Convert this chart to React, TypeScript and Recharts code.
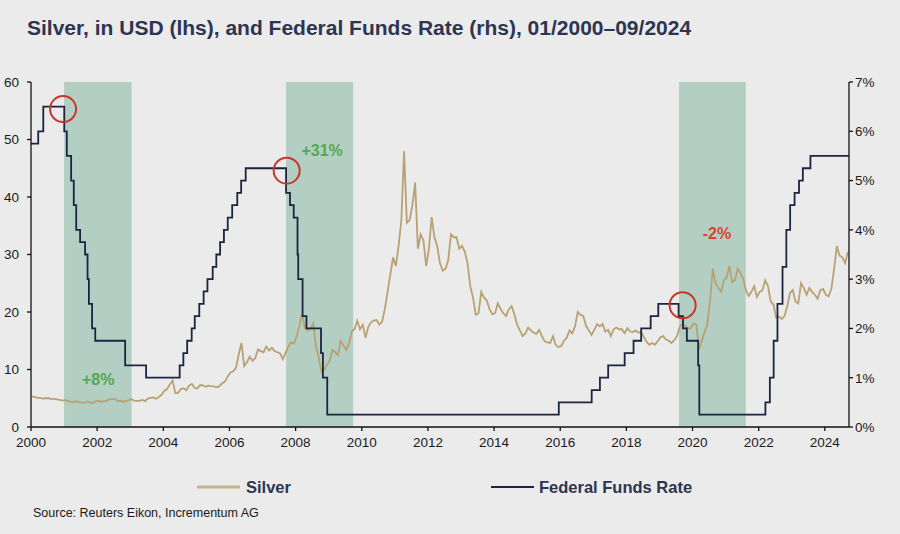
import { ComposedChart, Line, XAxis, YAxis, ReferenceArea, ReferenceDot } from 'recharts';

// silver, USD/oz, one value per month from 01/2000 to 09/2024
const silverMonthly = [
  5.3, 5.25, 5.05, 5.05, 4.95, 5.0, 5.0, 4.9, 4.9, 4.8, 4.7, 4.6, // 2000
  4.7, 4.5, 4.4, 4.35, 4.45, 4.35, 4.25, 4.2, 4.4, 4.3, 4.15, 4.45, // 2001
  4.55, 4.4, 4.5, 4.55, 4.8, 4.9, 4.9, 4.55, 4.6, 4.4, 4.5, 4.65, // 2002
  4.85, 4.6, 4.55, 4.55, 4.7, 4.5, 4.95, 5.05, 5.15, 4.9, 5.2, 5.6, // 2003
  6.3, 6.6, 7.4, 8.1, 5.9, 5.95, 6.6, 6.75, 6.4, 7.2, 7.5, 6.8, // 2004
  6.7, 7.3, 7.25, 7.0, 7.2, 7.1, 7.05, 6.9, 7.1, 7.6, 7.9, 8.8, // 2005
  9.5, 9.7, 10.3, 12.6, 14.6, 10.6, 11.3, 12.2, 11.5, 12.0, 13.5, 13.2, // 2006
  13.0, 14.0, 13.3, 13.8, 13.2, 13.0, 12.8, 11.8, 12.9, 14.0, 14.7, 14.5, // 2007
  15.8, 17.5, 19.8, 17.2, 16.8, 17.0, 18.0, 14.0, 12.2, 9.6, 10.0, 10.8, // 2008
  11.5, 13.4, 13.0, 12.5, 15.0, 14.2, 13.4, 14.5, 16.6, 17.0, 18.5, 17.0, // 2009
  17.8, 15.5, 17.4, 18.2, 18.5, 18.6, 17.8, 18.3, 20.5, 23.5, 26.5, 29.5, // 2010
  28.0, 31.5, 36.0, 48.0, 35.5, 36.0, 38.5, 42.5, 31.0, 33.5, 32.5, 28.0, // 2011
  31.0, 36.5, 33.0, 31.5, 28.5, 27.2, 27.5, 29.0, 33.5, 33.0, 33.0, 31.0, // 2012
  31.5, 30.5, 28.5, 24.5, 22.5, 19.5, 19.8, 23.5, 22.5, 22.0, 20.5, 19.6, // 2013
  19.8, 21.5, 20.5, 19.8, 19.3, 20.5, 21.0, 19.6, 17.8, 16.8, 15.8, 16.3, // 2014
  17.3, 16.8, 16.4, 16.2, 16.9, 15.8, 14.9, 14.7, 14.6, 15.8, 14.3, 13.9, // 2015
  14.1, 15.0, 15.5, 16.8, 16.3, 17.5, 20.0, 19.5, 19.3, 17.6, 16.8, 16.0, // 2016
  16.9, 17.9, 17.5, 17.9, 16.6, 16.9, 15.8, 17.0, 17.3, 17.0, 17.0, 16.3, // 2017
  17.2, 16.6, 16.5, 16.8, 16.4, 16.6, 15.6, 14.8, 14.3, 14.6, 14.3, 14.9, // 2018
  15.6, 15.8, 15.2, 15.0, 14.6, 15.1, 15.8, 17.4, 18.0, 17.6, 17.1, 17.2, // 2019
  18.0, 17.8, 13.5, 15.0, 16.5, 17.8, 22.0, 27.5, 25.0, 24.2, 23.5, 25.5, // 2020
  26.0, 28.0, 25.2, 25.5, 27.5, 26.8, 25.8, 23.8, 22.8, 23.5, 24.5, 22.6, // 2021
  23.5, 23.8, 25.5, 24.5, 21.8, 21.3, 19.0, 19.2, 18.8, 19.3, 21.0, 23.3, // 2022
  23.8, 21.8, 21.5, 25.0, 24.2, 23.0, 24.2, 23.5, 23.0, 22.3, 23.8, 24.0, // 2023
  23.0, 22.7, 24.0, 27.5, 31.5, 29.8, 29.5, 28.5, 30.5, // 2024
];

// federal funds target rate changes, %
const fedDates = [
  '2000-01-01', '2000-03-21', '2000-05-16', '2001-01-03', '2001-01-31', '2001-03-20', '2001-04-18',
  '2001-05-15', '2001-06-27', '2001-08-21', '2001-09-17', '2001-10-02', '2001-11-06', '2001-12-11',
  '2002-11-06', '2003-06-25', '2004-06-30', '2004-08-10', '2004-09-21', '2004-11-10', '2004-12-14',
  '2005-02-02', '2005-03-22', '2005-05-03', '2005-06-30', '2005-08-09', '2005-09-20', '2005-11-01',
  '2005-12-13', '2006-01-31', '2006-03-28', '2006-05-10', '2006-06-29', '2007-09-18', '2007-10-31',
  '2007-12-11', '2008-01-22', '2008-01-30', '2008-03-18', '2008-04-30', '2008-10-08', '2008-10-29',
  '2008-12-16', '2015-12-16', '2016-12-14', '2017-03-15', '2017-06-14', '2017-12-13', '2018-03-21',
  '2018-06-13', '2018-09-26', '2018-12-19', '2019-07-31', '2019-09-18', '2019-10-30', '2020-03-03',
  '2020-03-16', '2022-03-16', '2022-05-04', '2022-06-15', '2022-07-27', '2022-09-21', '2022-11-02',
  '2022-12-14', '2023-02-01', '2023-03-22', '2023-05-03', '2023-07-26', '2024-09-24',
];
const fedRates = [
  5.75, 6.0, 6.5, 6.0, 5.5, 5.0, 4.5,
  4.0, 3.75, 3.5, 3.0, 2.5, 2.0, 1.75,
  1.25, 1.0, 1.25, 1.5, 1.75, 2.0, 2.25,
  2.5, 2.75, 3.0, 3.25, 3.5, 3.75, 4.0,
  4.25, 4.5, 4.75, 5.0, 5.25, 4.75, 4.5,
  4.25, 3.5, 3.0, 2.25, 2.0, 1.5, 1.0,
  0.25, 0.5, 0.75, 1.0, 1.25, 1.5, 1.75,
  2.0, 2.25, 2.5, 2.25, 2.0, 1.75, 1.25,
  0.25, 0.5, 1.0, 1.75, 2.5, 3.25, 4.0,
  4.5, 4.75, 5.0, 5.25, 5.5, 5.5,
];

// cutting cycles (shaded), start / end year
const cutStarts = [2001.0, 2007.71, 2019.59];
const cutEnds = [2003.04, 2009.74, 2021.61];

// circles on the last hike, rate in %
const peakYears = [2000.97, 2007.73, 2019.7];
const peakRates = [6.45, 5.2, 2.47];

// silver performance labels
const perfLabels = ['+8%', '+31%', '-2%'];
const perfYears = [2002.03, 2008.8, 2020.74];
const perfValues = [8.35, 48.2, 33.6];
const perfColors = ['#55a84c', '#55a84c', '#d9432f'];

const xTicks = [2000, 2002, 2004, 2006, 2008, 2010, 2012, 2014, 2016, 2018, 2020, 2022, 2024];
const leftTicks = [0, 10, 20, 30, 40, 50, 60];
const rightTicks = [0, 1, 2, 3, 4, 5, 6, 7];

const toYear = (d: string) => {
  const [y, m, day] = d.split('-').map(Number);
  const start = Date.UTC(y, 0, 1);
  const end = Date.UTC(y + 1, 0, 1);
  return y + (Date.UTC(y, m - 1, day) - start) / (end - start);
};

const silverData = silverMonthly.map((v, i) => ({ t: 2000 + i / 12 + 0.03, silver: v }));
const fedData = fedDates.map((d, i) => ({ t: toYear(d), rate: fedRates[i] }));

const FONT = '"Liberation Sans", Arial, sans-serif';
const tickStyle = { fill: '#1a1a1a', fontSize: 13.5, fontFamily: FONT };
const axisLine = { stroke: '#111', strokeWidth: 1.3 };

export default function App() {
  return (
    <div style={{ position: 'absolute', left: 0, top: 0, width: 900, height: 534, background: '#ebebeb' }}>
      <ComposedChart width={900} height={534} margin={{ top: 82, right: 0, bottom: 77, left: 0 }}>
        <XAxis
          dataKey="t"
          type="number"
          domain={[2000, 2024.73]}
          ticks={xTicks}
          allowDataOverflow
          tick={tickStyle}
          axisLine={axisLine}
          tickLine={axisLine}
          tickSize={4}
          tickMargin={6}
          height={30}
        />
        <YAxis
          yAxisId="left"
          domain={[0, 60]}
          ticks={leftTicks}
          tick={tickStyle}
          axisLine={axisLine}
          tickLine={axisLine}
          tickSize={4}
          tickMargin={8}
          width={31}
        />
        <YAxis
          yAxisId="right"
          orientation="right"
          domain={[0, 7]}
          ticks={rightTicks}
          tickFormatter={(v: number) => `${v}%`}
          tick={tickStyle}
          axisLine={axisLine}
          tickLine={axisLine}
          tickSize={4}
          tickMargin={2}
          width={51}
        />
        {cutStarts.map((s, i) => (
          <ReferenceArea key={s} yAxisId="left" x1={s} x2={cutEnds[i]} y1={0} y2={60} fill="#b3cfc3" fillOpacity={1} stroke="none" />
        ))}
        <Line
          yAxisId="left"
          data={silverData}
          dataKey="silver"
          type="linear"
          stroke="#b8a172"
          strokeWidth={1.8}
          dot={false}
          isAnimationActive={false}
        />
        <Line
          yAxisId="right"
          data={fedData}
          dataKey="rate"
          type="stepAfter"
          stroke="#1c2440"
          strokeWidth={1.8}
          dot={false}
          isAnimationActive={false}
        />
        {peakYears.map((x, i) => (
          <ReferenceDot key={x} yAxisId="right" x={x} y={peakRates[i]} r={13} fill="none" stroke="#c8372b" strokeWidth={2} />
        ))}
        {perfLabels.map((lab, i) => (
          <ReferenceDot
            key={lab}
            yAxisId="left"
            x={perfYears[i]}
            y={perfValues[i]}
            r={0}
            fill="none"
            stroke="none"
            label={{ value: lab, position: 'center', fill: perfColors[i], fontSize: 16, fontWeight: 700, fontFamily: FONT }}
          />
        ))}
      </ComposedChart>
      <svg width={900} height={534} style={{ position: 'absolute', left: 0, top: 0, pointerEvents: 'none' }}>
        <text x={27} y={35} fontFamily={FONT} fontSize={21} fontWeight={700} fill="#2e3550">
          Silver, in USD (lhs), and Federal Funds Rate (rhs), 01/2000–09/2024
        </text>
        <line x1={197} x2={240} y1={487} y2={487} stroke="#c8b48a" strokeWidth={3} />
        <text x={246} y={493} fontFamily={FONT} fontSize={16.5} fontWeight={700} fill="#2e3550">Silver</text>
        <line x1={491} x2={534} y1={487} y2={487} stroke="#1c2440" strokeWidth={2} />
        <text x={539} y={493} fontFamily={FONT} fontSize={16.5} fontWeight={700} fill="#2e3550">Federal Funds Rate</text>
        <text x={33} y={517} fontFamily={FONT} fontSize={12.5} fill="#1a1a1a">Source: Reuters Eikon, Incrementum AG</text>
      </svg>
    </div>
  );
}
